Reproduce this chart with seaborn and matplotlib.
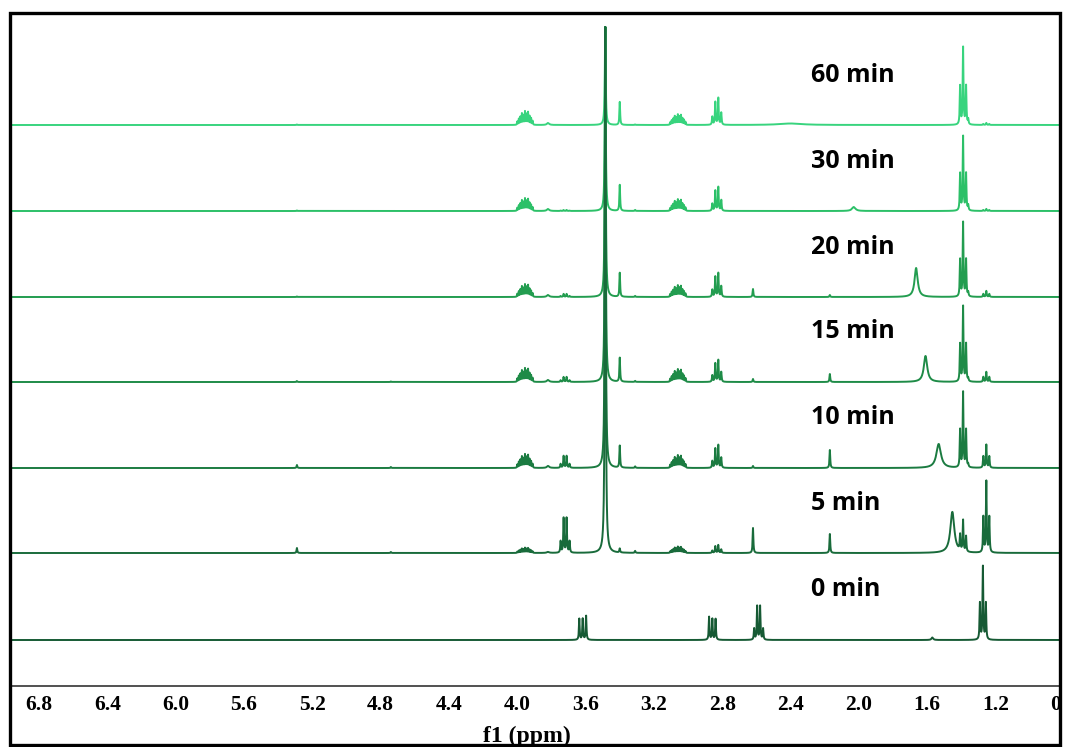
import numpy as np
import matplotlib
matplotlib.use("Agg")
import matplotlib.pyplot as plt
from matplotlib.patches import Rectangle
from matplotlib.ticker import MultipleLocator, FormatStrFormatter
import seaborn as sns

# --- 数据：各时间点的 1H NMR 峰表（化学位移 ppm，峰高以像素计） ---
times = ["0 min", "5 min", "10 min", "15 min", "20 min", "30 min", "60 min"]
offsets = [46, 133, 218, 304, 389, 475, 561]
colors = ["#165a34", "#196b3b", "#1b7b41", "#1e8b47", "#239d50", "#2cc068", "#38d47e"]

signal_ppm = [5.29, 4.74, 3.955, 3.82, 3.72, 3.617, 3.485, 3.40, 3.31, 3.06,
              2.858, 2.832, 2.62, 2.587, 2.17, 1.57, 1.39, 1.36, 1.274, 1.254]
signal_shape = ["s", "s", "m", "s", "q", "t0", "s", "s", "s", "m",
                "t1", "q2", "s", "q", "s", "s", "t", "s", "t", "t"]
signal_width = [0.0025, 0.0025, 0.0018, 0.008, 0.0025, 0.0025, 0.003, 0.0025, 0.0025, 0.0018,
                0.0025, 0.0025, 0.0025, 0.0025, 0.0025, 0.006, 0.0025, 0.0025, 0.0025, 0.0025]

h_0min = [0, 0, 0, 0, 0, 24, 0, 0, 0, 0, 23, 0, 0, 34, 0, 2.5, 0, 0, 73, 0]
h_5min = [5, 1, 5, 1, 35, 0, 526, 4, 2, 6, 0, 8, 25, 0, 19, 0, 31, 0, 0, 71]
h_10min = [3, 1, 13, 2, 12, 0, 441, 22, 1.5, 12, 0, 23, 2, 0, 18, 0, 75, 3, 0, 23]
h_15min = [1, 0.5, 13, 2, 5, 0, 355, 24, 1, 12, 0, 22, 3, 0, 8, 0, 75, 3, 0, 10]
h_20min = [0.5, 0, 12, 2, 3, 0, 270, 24, 1, 11, 0, 24, 8, 0, 2, 0, 74, 4, 0, 6]
h_30min = [0.5, 0, 12, 2, 1, 0, 184, 26, 1, 11, 0, 24, 0, 0, 0, 0, 74, 5, 0, 2]
h_60min = [0.5, 0, 13, 2, 0, 0, 98, 23, 0.5, 10, 0, 27, 0, 0, 0, 0, 77, 5, 0, 2]
heights = [h_0min, h_5min, h_10min, h_15min, h_20min, h_30min, h_60min]

# 随时间移动的宽峰 (OH)
oh_ppm = [1.57, 1.453, 1.533, 1.61, 1.665, 2.03, 2.40]
oh_height = [0, 41, 24, 26, 29, 4, 1.5]
oh_width = [0.01, 0.014, 0.016, 0.012, 0.011, 0.012, 0.08]

J = 0.0175
SHAPES = {
    "s": ([1.0], 0.0),
    "t": ([0.5, 1.0, 0.5], J),
    "q": ([0.33, 1.0, 1.0, 0.33], J),
    "m": ([0.25, 0.45, 0.6, 0.85, 0.7, 1.0, 0.8, 0.95, 0.65, 0.5, 0.3], 0.009),
    "t0": ([0.88, 0.88, 1.0], 0.02),
    "t1": ([1.0, 0.91, 0.91], 0.019),
    "q2": ([0.3, 0.85, 1.0, 0.45], J),
}

ppm = np.arange(0.78, 6.97, 0.0005)


def build_spectrum(hs, offset, oh_c, oh_h, oh_w):
    y = np.full_like(ppm, float(offset))
    for c, shp, w, h in zip(signal_ppm, signal_shape, signal_width, hs):
        if h == 0:
            continue
        rel, step = SHAPES[shp]
        n = len(rel)
        for k, r in enumerate(rel):
            pos = c + ((n - 1) / 2 - k) * step
            y += h * r / (1 + ((ppm - pos) / w) ** 2)
    if oh_h > 0:
        y += oh_h / (1 + ((ppm - oh_c) / oh_w) ** 2)
    return y


sns.set_style("white")
plt.rcParams["font.family"] = ["DejaVu Sans"]

W, H = 1065, 747
fig = plt.figure(figsize=(W / 100, H / 100), dpi=100)
ax = fig.add_axes([10 / W, (H - 686) / H, (1067.3 - 10) / W, (686 - 14) / H])

# 从上往下画，5 min 的大峰压在最上层
for i in reversed(range(len(times))):
    spec = build_spectrum(heights[i], offsets[i], oh_ppm[i], oh_height[i], oh_width[i])
    sns.lineplot(x=ppm, y=spec, color=colors[i], linewidth=1.4, ax=ax,
                 sort=False, estimator=None)
    ax.text(2.283, offsets[i] + 50, times[i], ha="left", va="center",
            fontsize=18, fontweight="bold", family="Open Sans", color="black")

ax.set_xlim(6.97, 0.78)
ax.set_ylim(0, 672)
ax.set_yticks([])
ax.set_xlabel("")
ax.set_ylabel("")
for side in ["top", "left", "right"]:
    ax.spines[side].set_visible(False)
ax.spines["bottom"].set_color("#333333")
ax.spines["bottom"].set_linewidth(1.2)

ax.xaxis.set_major_locator(MultipleLocator(0.4))
ax.xaxis.set_minor_locator(MultipleLocator(0.1))
ax.xaxis.set_major_formatter(FormatStrFormatter("%.1f"))
ax.tick_params(axis="x", which="major", direction="out", length=4, width=1,
               color="#333333", pad=2.5, labelcolor="black")
ax.tick_params(axis="x", which="minor", direction="out", length=3, width=1,
               color="#333333")
for lab in ax.get_xticklabels():
    lab.set_fontfamily("Liberation Serif")
    lab.set_fontweight("bold")
    lab.set_fontsize(15.5)

fig.text(527 / W, 1 - 736 / H, "f1 (ppm)", ha="center", va="center", color="black",
         fontsize=17, fontweight="bold", family="Liberation Serif")

# 外框（原图是裁剪过的截图）
fig.add_artist(Rectangle((1062 / W, 0), 3 / W, 1, transform=fig.transFigure,
                         facecolor="white", edgecolor="none", zorder=10))
fig.add_artist(Rectangle((10 / W, 1 - 745 / H), (1060 - 10) / W, (745 - 13) / H,
                         transform=fig.transFigure, fill=False, linewidth=2.4,
                         edgecolor="black", zorder=11))

fig.savefig("out.png", dpi=100)
plt.close(fig)
